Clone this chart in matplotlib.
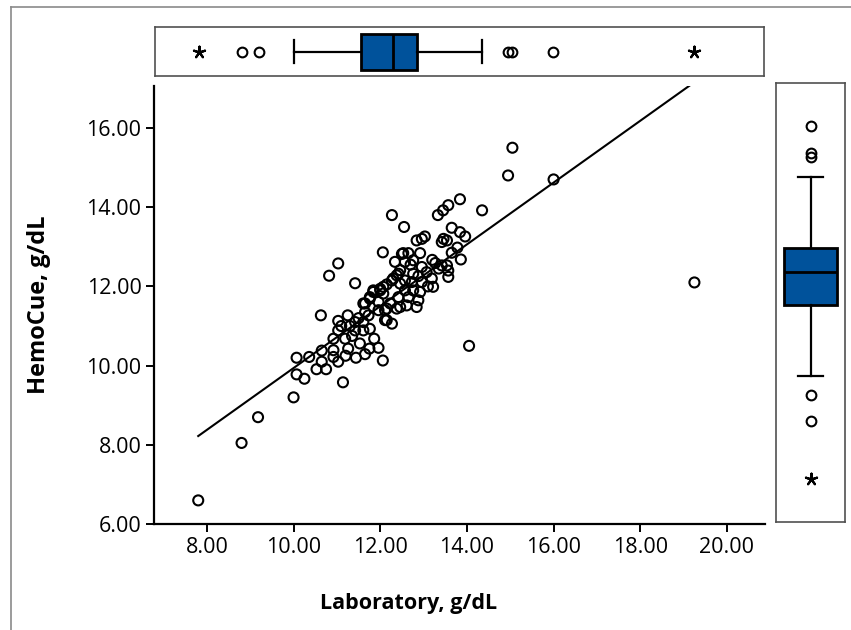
import numpy as np
import matplotlib.pyplot as plt
from matplotlib.lines import Line2D

# ---- data ----
lab = [7.80, 8.80, 9.18, 10.00, 10.07, 10.07, 10.25, 10.36, 10.53, 10.65,
       10.75, 10.65, 10.63, 10.82, 11.03, 11.14, 11.42, 12.06, 12.27, 12.06,
       12.55, 13.33, 13.45, 13.57, 13.84, 14.35, 14.05, 14.95, 15.05, 16.00,
       19.25,
       10.92, 10.92, 10.92, 11.03, 11.03, 11.25, 11.03, 11.19, 11.26, 11.44,
       11.65, 11.53, 11.75, 11.96, 11.86, 11.42, 11.42, 11.61, 11.61, 11.76,
       11.73, 11.65, 11.65, 11.76, 11.84, 11.96, 11.96, 12.07, 12.07, 12.11,
       12.15, 11.10, 11.30, 11.50, 11.35, 11.20,
       12.34, 12.53, 12.65, 12.57, 12.92, 12.84, 12.96, 13.03, 13.65, 13.84,
       13.96, 13.46, 13.54, 13.42, 13.78, 13.86, 13.54, 13.57, 13.57, 13.27,
       13.42, 12.96, 13.07, 12.76, 12.46, 12.38, 12.27, 12.15, 12.76, 12.88,
       12.73, 12.96, 13.19, 13.22, 12.57, 12.76, 12.92, 12.42, 12.65, 12.88,
       12.46, 12.23, 12.84, 12.61, 12.38, 12.15, 12.11, 12.27, 12.00, 12.50,
       11.84, 12.00, 11.76, 11.61, 12.30, 12.42, 12.46, 12.57, 13.20, 13.35,
       13.65, 13.10, 12.70]
hemo = [6.60, 8.05, 8.70, 9.20, 10.20, 9.78, 9.67, 10.22, 9.91, 10.38,
        9.91, 10.10, 11.27, 12.27, 12.58, 9.58, 12.08, 10.13, 13.80, 12.86,
        13.50, 13.80, 13.92, 14.05, 14.20, 13.92, 10.50, 14.80, 15.50, 14.70,
        12.10,
        10.68, 10.39, 10.22, 10.10, 11.13, 11.27, 10.89, 10.68, 10.43, 10.20,
        10.29, 10.56, 10.43, 10.45, 10.68, 11.10, 10.89, 11.10, 10.89, 10.93,
        11.27, 11.57, 11.35, 11.73, 11.86, 11.61, 11.40, 11.99, 11.82, 11.40,
        11.15, 11.00, 11.00, 11.20, 10.75, 10.25,
        12.62, 12.84, 12.84, 12.62, 12.84, 13.16, 13.20, 13.26, 13.48, 13.37,
        13.26, 13.20, 13.16, 13.12, 12.98, 12.68, 12.53, 12.40, 12.24, 12.59,
        12.53, 12.49, 12.36, 12.66, 12.41, 12.28, 12.15, 12.05, 12.32, 12.26,
        12.11, 12.11, 12.20, 11.99, 11.90, 11.90, 11.86, 11.73, 11.73, 11.65,
        11.48, 11.57, 11.48, 11.52, 11.44, 11.44, 11.15, 11.06, 11.90, 12.82,
        11.90, 11.94, 11.69, 11.57, 12.20, 12.32, 12.07, 12.15, 12.67, 12.45,
        12.85, 12.00, 12.55]

# fitted line
fit_intercept = 2.14
fit_slope = 0.78

# boxplot summaries (Laboratory on top, HemoCue on the right)
lab_box = dict(med=12.30, q1=11.55, q3=12.85, whislo=10.00, whishi=14.35,
               fliers=[8.80, 9.18, 14.95, 15.05, 16.00])
lab_extremes = [7.80, 19.25]
hemo_box = dict(med=11.82, q1=10.97, q3=12.41, whislo=9.20, whishi=14.20,
                fliers=[8.05, 8.70, 14.70, 14.80, 15.50])
hemo_extremes = [6.60]

x_ticks = [8, 10, 12, 14, 16, 18, 20]
y_ticks = [6, 8, 10, 12, 14, 16]

# ---- style ----
plt.rcParams['font.family'] = ['Open Sans', 'DejaVu Sans']
box_color = '#00529B'
frame_color = '#505050'

fig = plt.figure(figsize=(8.51, 6.30), dpi=100)

# outer gray frame (only top and left visible)
fig.add_artist(Line2D([0.013, 0.013], [0.0, 0.989], color='#8a8a8a', lw=1.2,
                      transform=fig.transFigure))
fig.add_artist(Line2D([0.013, 1.0], [0.989, 0.989], color='#8a8a8a', lw=1.2,
                      transform=fig.transFigure))

# main scatter
ax = fig.add_axes([0.181, 0.168, 0.718, 0.695])
ax.scatter(lab, hemo, s=52, facecolors='none', edgecolors='black',
           linewidths=1.5, zorder=3)
xs = np.array([min(lab), max(lab)])
ax.plot(xs, fit_intercept + fit_slope * xs, color='black', lw=1.5, zorder=2)

ax.set_xlim(6.78, 20.88)
ax.set_ylim(6.0, 17.05)
ax.set_xticks(x_ticks)
ax.set_yticks(y_ticks)
ax.set_xticklabels([f"{v:.2f}" for v in x_ticks])
ax.set_yticklabels([f"{v:.2f}" for v in y_ticks])
ax.tick_params(direction='out', length=6, width=1.4, labelsize=15.5, pad=3)
for side in ['top', 'right']:
    ax.spines[side].set_visible(False)
for side in ['left', 'bottom']:
    ax.spines[side].set_linewidth(1.6)
ax.set_xlabel("Laboratory, g/dL", fontsize=15.5, fontweight='bold')
ax.set_ylabel("HemoCue, g/dL", fontsize=17, fontweight='bold')
ax.xaxis.set_label_coords(0.416, -0.158)
ax.yaxis.set_label_coords(-0.168, 0.5)

flier_style = dict(marker='o', markerfacecolor='none', markeredgecolor='black',
                   markersize=7, markeredgewidth=1.5, linestyle='none')
box_style = dict(facecolor=box_color, edgecolor='black', linewidth=2)
line_style = dict(color='black', linewidth=1.6)

# top boxplot
ax_top = fig.add_axes([0.182, 0.879, 0.716, 0.078])
ax_top.bxp([lab_box], positions=[0], widths=0.8, orientation='horizontal',
           patch_artist=True, boxprops=box_style, medianprops=dict(color='black', linewidth=2),
           whiskerprops=line_style, capprops=line_style, flierprops=flier_style,
           capwidths=0.5)
ax_top.scatter(lab_extremes, [0] * len(lab_extremes), marker=(5, 2), s=70,
               c='black', linewidths=1.6)
ax_top.set_xlim(6.78, 20.88)
ax_top.set_ylim(-0.55, 0.55)

# right boxplot
ax_right = fig.add_axes([0.912, 0.171, 0.081, 0.697])
ax_right.bxp([hemo_box], positions=[0], widths=0.78, orientation='vertical',
             patch_artist=True, boxprops=box_style, medianprops=dict(color='black', linewidth=2),
             whiskerprops=line_style, capprops=line_style, flierprops=flier_style,
             capwidths=0.36)
ax_right.scatter([0] * len(hemo_extremes), hemo_extremes, marker=(5, 2), s=70,
                 c='black', linewidths=1.6)
ax_right.set_xlim(-0.5, 0.5)
ax_right.set_ylim(5.5, 16.57)

for a in (ax_top, ax_right):
    a.set_xticks([])
    a.set_yticks([])
    for sp in a.spines.values():
        sp.set_color(frame_color)
        sp.set_linewidth(1.2)

fig.savefig("out.png", dpi=100)
